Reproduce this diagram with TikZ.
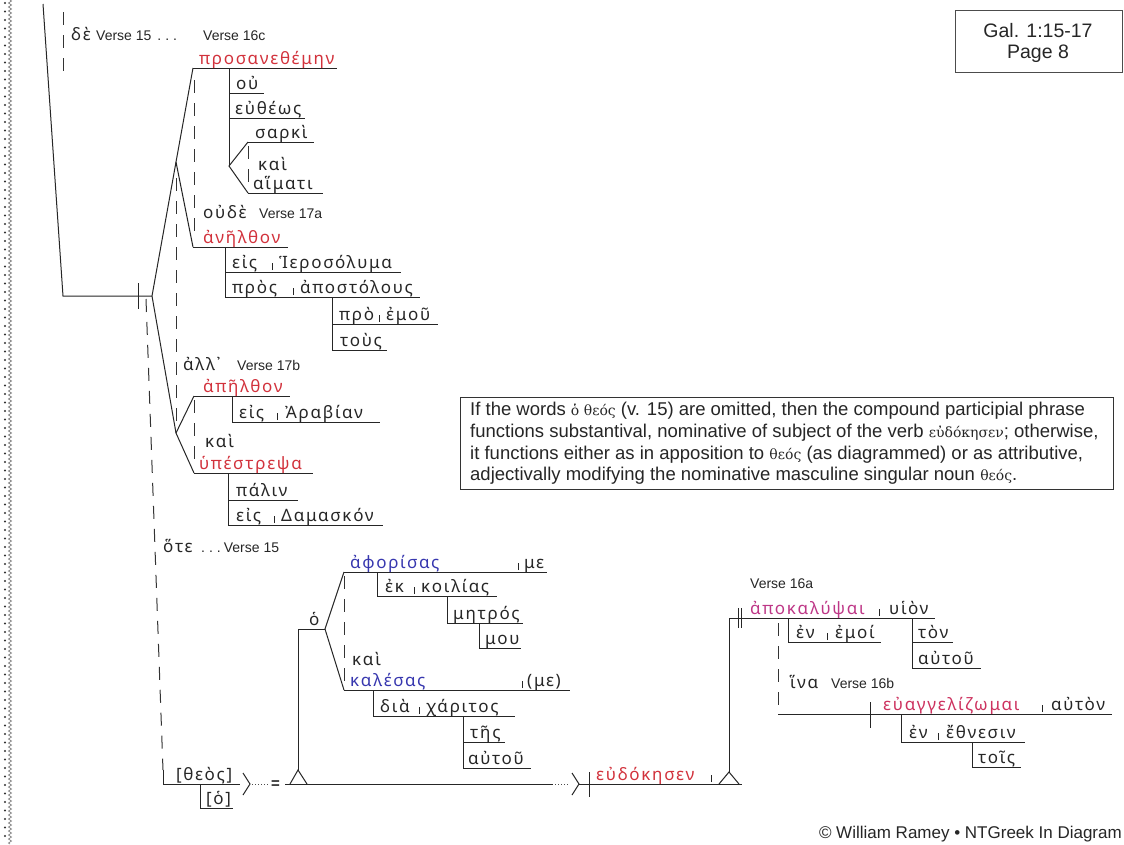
\documentclass[tikz,border=0pt]{standalone}
\usepackage{fontspec}
\setmainfont{Liberation Sans}
\newfontfamily\gkf[LetterSpace=10]{Noto Sans}
\newfontfamily\gks{DejaVu Serif}
\usetikzlibrary{decorations.pathmorphing}
\definecolor{vred}{RGB}{210,50,60}
\definecolor{vmag}{RGB}{190,55,135}
\definecolor{vpink}{RGB}{205,50,95}
\definecolor{vblue}{RGB}{55,55,175}
\newcommand{\septick}[2]{\draw[ln] (#1,#2-2) -- (#1,#2-9);}
\begin{document}
\begin{tikzpicture}[x=1pt,y=-1pt,
 ln/.style={line width=1pt, draw=black!85},
 dsh/.style={line width=1pt, draw=black!80, dash pattern=on 13pt off 10pt},
 gk/.style={font=\gkf\fontsize{17}{17}\selectfont, inner sep=0pt, anchor=base west, text=black!85},
 vs/.style={font=\fontsize{14}{14}\selectfont, inner sep=0pt, anchor=base west, text=black!85},
 vbr/.style={text=vred}, vbm/.style={text=vmag}, vbp/.style={text=vpink}, vbb/.style={text=vblue}]
\useasboundingbox (0,0) rectangle (1124,844);
\fill[white] (0,0) rectangle (1124,844);
% left border
\draw[line width=2.2pt, line cap=round, dash pattern=on 0pt off 8.5pt, black!80] (5,3) -- (5,844);
\draw[decorate, decoration={zigzag, amplitude=1.6pt, segment length=4pt}, black!55, line width=0.6pt] (10,0) -- (10,844);

% ===== main clause =====
\draw[ln] (43,4) -- (63,296) -- (152,296);
\draw[dsh] (63,12) -- (63,80);
\node[gk] (de) at (71,40) {δὲ};
\node[vs] (v15a) at (96,40) {Verse 15\hspace{6pt}.\hspace{4pt}.\hspace{4pt}.};
\node[vs] (v16c) at (203,40) {Verse 16c};
\draw[ln] (138,283) -- (138,309);
\coordinate (fk) at (152,296);
\coordinate (fu) at (176,162);
\coordinate (fl) at (176,433);
\draw[ln] (fu) -- (fk) -- (fl);
\draw[ln] (193,68) -- (fu) -- (193,247);
\draw[ln] (194,396) -- (fl) -- (194,473);
\draw[dsh] (176,178) -- (176,425);
\draw[dsh] (194,80) -- (194,240);
\draw[dsh] (194,400) -- (194,468);

% προσανεθέμην
\draw[ln] (193,68) -- (337,68);
\node[gk,vbr] (prosan) at (199,64) {προσανεθέμην};
\draw[ln] (229,68) -- (229,166);
\draw[ln] (229,93) -- (264,93); \node[gk] (ou) at (236,89) {οὐ};
\draw[ln] (229,118) -- (305,118); \node[gk] (eutheos) at (235,114) {εὐθέως};
\draw[ln] (248,142) -- (229,166) -- (248,193);
\draw[ln] (248,142) -- (314,142); \node[gk] (sarki) at (255,138) {σαρκὶ};
\draw[ln] (248,193) -- (323,193); \node[gk] (haimati) at (253,189) {αἵματι};
\draw[dsh] (248,146) -- (248,190);
\node[gk] (kaiA) at (258,170) {καὶ};
\node[gk] (oude) at (203,218) {οὐδὲ};
\node[vs] (v17a) at (259,218) {Verse 17a};

% ἀνῆλθον
\draw[ln] (193,247) -- (288,247);
\node[gk,vbr] (anelthon) at (203,243) {ἀνῆλθον};
\draw[ln] (225,247) -- (225,297);
\draw[ln] (225,272) -- (401,272); \node[gk] (eisA) at (232,268) {εἰς}; \septick{272}{272} \node[gk] (hieros) at (279,268) {Ἱεροσόλυμα};
\draw[ln] (225,297) -- (420,297); \node[gk] (pros) at (232,293) {πρὸς}; \septick{293}{297} \node[gk] (apost) at (300,293) {ἀποστόλους};
\draw[ln] (332,297) -- (332,350);
\draw[ln] (332,324) -- (438,324); \node[gk] (pro) at (339,320) {πρὸ}; \septick{379}{324} \node[gk] (emou) at (386,320) {ἐμοῦ};
\draw[ln] (332,350) -- (387,350); \node[gk] (tous) at (340,346) {τοὺς};

% ἀλλ᾽
\node[gk] (all) at (183,370) {ἀλλ᾽};
\node[vs] (v17b) at (237,370) {Verse 17b};
\draw[ln] (194,396) -- (290,396);
\node[gk,vbr] (apelthon) at (203,392) {ἀπῆλθον};
\draw[ln] (232,396) -- (232,422);
\draw[ln] (232,422) -- (380,422); \node[gk] (eisB) at (239,418) {εἰς}; \septick{277}{422} \node[gk] (arab) at (285,418) {Ἀραβίαν};
\node[gk] (kaiB) at (205,447) {καὶ};
\draw[ln] (194,473) -- (313,473);
\node[gk,vbr] (hypestr) at (199,469) {ὑπέστρεψα};
\draw[ln] (228,473) -- (228,525);
\draw[ln] (228,500) -- (298,500); \node[gk] (palin) at (236,496) {πάλιν};
\draw[ln] (228,525) -- (383,525); \node[gk] (eisC) at (236,521) {εἰς}; \septick{274}{525} \node[gk] (damask) at (281,521) {Δαμασκόν};
\node[gk] (hote) at (163,552) {ὅτε};
\node[vs] (v15b) at (201,552) {.\hspace{4pt}.\hspace{4pt}.\hspace{3pt}Verse 15};

% ===== ὅτε clause =====
\draw[dsh] (146,299) -- (163,770);
\draw[ln] (163,770) -- (163,784) -- (240,784);
\node[gk] (theos) at (176,780) {[θεὸς]};
\draw[ln] (200,784) -- (200,808) -- (233,808);
\node[gk] (hoB) at (206,804) {[ὁ]};
\draw[ln] (243,773) -- (250,784) -- (243,795);
\draw[line width=1pt, black!70, dash pattern=on 1pt off 2pt] (252,784) -- (268,784);
\node[vs, font=\bfseries\fontsize{15}{15}\selectfont] (eq) at (271,788) {=};
\draw[ln] (285,784) -- (553,784);
\draw[ln] (290,784) -- (298,770) -- (307,784);
\draw[ln] (298,770) -- (298,629) -- (325,629);
\node[gk] (ho) at (309,625) {ὁ};
\draw[ln] (344,572) -- (325,629) -- (344,690);
\draw[dsh] (344,576) -- (344,688);
\node[gk] (kaiC) at (352,665) {καὶ};
% ἀφορίσας
\draw[ln] (344,572) -- (547,572);
\node[gk,vbb] (aphor) at (350,568) {ἀφορίσας};
\septick{518}{572} \node[gk] (meA) at (524,568) {με};
\draw[ln] (377,572) -- (377,596);
\draw[ln] (377,596) -- (497,596); \node[gk] (ek) at (385,592) {ἐκ}; \septick{414}{596} \node[gk] (koilias) at (421,592) {κοιλίας};
\draw[ln] (447,596) -- (447,623);
\draw[ln] (447,623) -- (523,623); \node[gk] (metros) at (453,619) {μητρός};
\draw[ln] (479,623) -- (479,648);
\draw[ln] (479,648) -- (521,648); \node[gk] (mou) at (485,644) {μου};
% καλέσας
\draw[ln] (344,690) -- (570,690);
\node[gk,vbb] (kalesas) at (350,686) {καλέσας};
\septick{522}{690} \node[gk] (meB) at (527,686) {(με)};
\draw[ln] (373,690) -- (373,716);
\draw[ln] (373,716) -- (515,716); \node[gk] (dia) at (380,712) {διὰ}; \septick{419}{716} \node[gk] (charitos) at (426,712) {χάριτος};
\draw[ln] (463,716) -- (463,768);
\draw[ln] (463,742) -- (505,742); \node[gk] (tes) at (470,738) {τῆς};
\draw[ln] (463,768) -- (531,768); \node[gk] (autouA) at (468,764) {αὐτοῦ};
% εὐδόκησεν
\draw[line width=1pt, black!70, dash pattern=on 1pt off 2pt] (555,784) -- (570,784);
\draw[ln] (572,773) -- (579,784) -- (572,795);
\draw[ln] (579,784) -- (742,784);
\draw[ln] (589,772) -- (589,797);
\node[gk,vbr] (eudok) at (596,780) {εὐδόκησεν};
\septick{711}{784}
\draw[ln] (719,784) -- (729,772) -- (739,784);

% ===== infinitive =====
\draw[ln] (729,772) -- (729,618) -- (935,618);
\draw[ln] (738,608) -- (738,628);
\draw[ln] (741,608) -- (741,628);
\node[vs] (v16a) at (750,588) {Verse 16a};
\node[gk,vbm] (apokal) at (750,614) {ἀποκαλύψαι};
\septick{879}{618} \node[gk] (huion) at (889,614) {υἱὸν};
\draw[ln] (788,618) -- (788,642);
\draw[ln] (788,642) -- (881,642); \node[gk] (enA) at (796,638) {ἐν}; \septick{827}{642} \node[gk] (emoi) at (835,638) {ἐμοί};
\draw[ln] (912,618) -- (912,668);
\draw[ln] (912,642) -- (953,642); \node[gk] (ton) at (918,638) {τὸν};
\draw[ln] (912,668) -- (981,668); \node[gk] (autouB) at (918,664) {αὐτοῦ};
\draw[dsh] (778,623) -- (778,714);
\node[gk] (hina) at (790,688) {ἵνα};
\node[vs] (v16b) at (831,688) {Verse 16b};
\draw[ln] (778,714) -- (1112,714);
\draw[ln] (870,702) -- (870,728);
\node[gk,vbp] (euang) at (883,710) {εὐαγγελίζωμαι};
\septick{1042}{714} \node[gk] (auton) at (1051,710) {αὐτὸν};
\draw[ln] (901,714) -- (901,742);
\draw[ln] (901,742) -- (1025,742); \node[gk] (enB) at (909,738) {ἐν}; \septick{938}{742} \node[gk] (ethnesin) at (946,738) {ἔθνεσιν};
\draw[ln] (972,742) -- (972,767);
\draw[ln] (972,767) -- (1021,767); \node[gk] (tois) at (978,763) {τοῖς};

% ===== note box =====
\draw[line width=1pt, black!80] (460,397) rectangle (1113,489);
\node[anchor=north west, inner sep=0pt, align=left, text=black!85, font=\fontsize{18.5}{21.7}\selectfont] (note) at (470,402)
{If the words {\gks\fontsize{14}{14}\selectfont ὁ θεός} (v. 15) are omitted, then the compound participial phrase\\
functions substantival, nominative of subject of the verb {\gks\fontsize{14}{14}\selectfont εὐδόκησεν}; otherwise,\\
it functions either as in apposition to {\gks\fontsize{14}{14}\selectfont θεός} (as diagrammed) or as attributive,\\
adjectivally modifying the nominative masculine singular noun {\gks\fontsize{14}{14}\selectfont θεός}.};

% ===== title box =====
\draw[line width=1pt, black!70] (955,10) rectangle (1122,72);
\node[font=\fontsize{19.5}{19.5}\selectfont, text=black!85, inner sep=0pt] (gal) at (1038,31) {Gal. 1:15-17};
\node[font=\fontsize{19.5}{19.5}\selectfont, text=black!85, inner sep=0pt] (page) at (1038,54) {Page 8};

\node[anchor=base east, inner sep=0pt, font=\fontsize{17}{17}\selectfont, text=black!85] (copy) at (1122,838) {© William Ramey • NTGreek In Diagram};
\end{tikzpicture}
\end{document}
